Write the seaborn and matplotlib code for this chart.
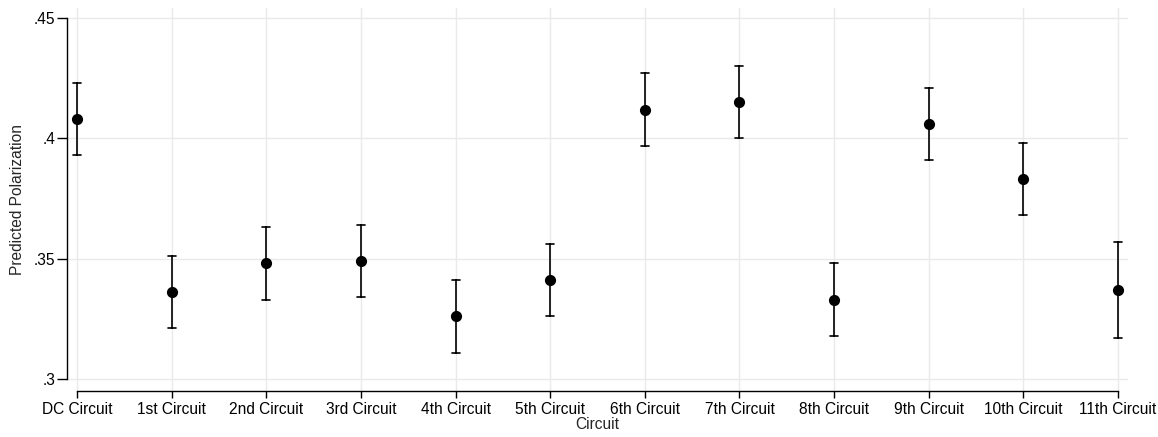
import matplotlib
matplotlib.use("Agg")
import matplotlib.pyplot as plt
import seaborn as sns
import pandas as pd

circuits = ["DC Circuit", "1st Circuit", "2nd Circuit", "3rd Circuit", "4th Circuit",
            "5th Circuit", "6th Circuit", "7th Circuit", "8th Circuit", "9th Circuit",
            "10th Circuit", "11th Circuit"]
predicted = [0.408, 0.336, 0.348, 0.349, 0.326, 0.341, 0.412, 0.415, 0.333, 0.406, 0.383, 0.337]
ci_low = [0.393, 0.321, 0.333, 0.334, 0.311, 0.326, 0.397, 0.400, 0.318, 0.391, 0.368, 0.317]
ci_high = [0.423, 0.351, 0.363, 0.364, 0.341, 0.356, 0.427, 0.430, 0.348, 0.421, 0.398, 0.357]
yticks = [0.3, 0.35, 0.4, 0.45]

# long table: median gives the estimate, min/max give the interval
rows = []
for c, lo, m, hi in zip(circuits, ci_low, predicted, ci_high):
    for v in (lo, m, hi):
        rows.append({"Circuit": c, "value": v})
df = pd.DataFrame(rows)

sns.set_style("white")
plt.rcParams["font.family"] = ["Liberation Sans", "DejaVu Sans"]

fig = plt.figure(figsize=(11.58, 4.37), dpi=100)
ax = fig.add_axes([67 / 1158, 1 - 391 / 437, (1128 - 67) / 1158, (391 - 8) / 437])

sns.pointplot(data=df, x="Circuit", y="value", order=circuits,
              estimator="median", errorbar=lambda x: (x.min(), x.max()),
              color="black", linestyle="none", markersize=6, capsize=0.085,
              err_kws={"linewidth": 1.2}, ax=ax, zorder=3)

ax.set_xlim(-0.106, 11.106)
ax.set_ylim(0.295, 0.4542)
ax.set_yticks(yticks)
ax.set_yticklabels([f"{t:g}".lstrip("0") for t in yticks])

ax.grid(True, color="#eaeaea", linewidth=1)
ax.set_axisbelow(True)
for s in ["top", "right"]:
    ax.spines[s].set_visible(False)
ax.spines["left"].set_bounds(0.3, 0.45)
ax.spines["bottom"].set_bounds(0, 11)
for s in ["left", "bottom"]:
    ax.spines[s].set_color("black")
    ax.spines[s].set_linewidth(1)
ax.tick_params(axis="both", direction="out", length=7, width=1, color="black",
               labelsize=11.2, labelcolor="black", left=True, bottom=True, pad=1.5)
ax.tick_params(axis="x", length=5, pad=3)

ax.set_xlabel("Circuit", fontsize=11.2, labelpad=0)
ax.set_ylabel("Predicted Polarization", fontsize=11.2, labelpad=6)

fig.savefig("out.png", dpi=100)
